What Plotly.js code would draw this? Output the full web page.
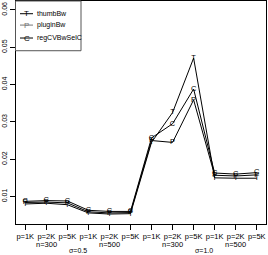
<!DOCTYPE html>
<html>
<head>
<meta charset="utf-8">
<script src="https://cdn.plot.ly/plotly-3.0.1.min.js"></script>
<style>html,body{margin:0;padding:0;background:#fff;}#chart{width:268px;height:255px;}</style>
</head>
<body>
<div id="chart"></div>
<script>
// Data
const xPos = [1, 2, 3, 4, 5, 6, 7, 8, 9, 10, 11, 12];
const tickLabels = ["p=1K", "p=2K", "p=5K", "p=1K", "p=2K", "p=5K", "p=1K", "p=2K", "p=5K", "p=1K", "p=2K", "p=5K"];
const nLabels = ["n=300", "n=500", "n=300", "n=500"];
const nLabelPos = [2, 5, 8, 11];
const sigmaLabels = ["σ=0.5", "σ=1.0"];
const sigmaLabelPos = [3.5, 9.5];
const seriesNames = ["thumbBw", "pluginBw", "regCVBwSelC"];
const seriesLetters = ["T", "P", "C"];
const thumbBw = [0.0080, 0.0082, 0.0078, 0.0056, 0.0053, 0.0054, 0.0245, 0.0325, 0.0471, 0.0150, 0.0149, 0.0149];
const pluginBw = [0.0084, 0.0085, 0.0083, 0.0059, 0.0056, 0.0057, 0.0250, 0.0245, 0.0359, 0.0157, 0.0155, 0.0158];
const regCVBwSelC = [0.0087, 0.0089, 0.0088, 0.0063, 0.0060, 0.0060, 0.0257, 0.0295, 0.0388, 0.0163, 0.0160, 0.0164];
const yTicks = [0.01, 0.02, 0.03, 0.04, 0.05, 0.06];
const yTickText = ["0.01", "0.02", "0.03", "0.04", "0.05", "0.06"];

const FONT = "'Liberation Sans', Arial, Helvetica, sans-serif";
const allSeries = [thumbBw, pluginBw, regCVBwSelC];
const lineColors = ["#000000", "#000000", "#000000"];

const traces = allSeries.map((ys, i) => ({
  type: "scatter",
  mode: "lines+text",
  x: xPos,
  y: ys,
  name: seriesNames[i],
  text: xPos.map(() => seriesLetters[i]),
  textposition: "middle center",
  textfont: {family: FONT, size: 7.5, color: "#000"},
  line: {color: lineColors[i], width: 1},
  showlegend: false,
  cliponaxis: false
}));

const annotations = [];
nLabels.forEach((t, i) => annotations.push({
  text: t, x: nLabelPos[i], xref: "x", y: -0.093, yref: "paper",
  showarrow: false, xanchor: "center", yanchor: "middle",
  font: {family: FONT, size: 7.5, color: "#000"}
}));
sigmaLabels.forEach((t, i) => annotations.push({
  text: t, x: sigmaLabelPos[i], xref: "x", y: -0.119, yref: "paper",
  showarrow: false, xanchor: "center", yanchor: "middle",
  font: {family: FONT, size: 7, color: "#000"}
}));

// manual legend (R style)
const legY = [0.943, 0.892, 0.834];
const legendColors = ["#000", "#777", "#000"];
const shapes = [{
  type: "rect", xref: "paper", yref: "paper",
  x0: -0.002, x1: 0.26, y0: 0.777, y1: 1.0,
  line: {color: "#555", width: 1}, fillcolor: "rgba(255,255,255,1)"
}];
seriesNames.forEach((n, i) => {
  shapes.push({
    type: "line", xref: "paper", yref: "paper",
    x0: 0.016, x1: 0.068, y0: legY[i], y1: legY[i],
    line: {color: legendColors[i], width: 1}
  });
  annotations.push({
    text: seriesLetters[i], x: 0.042, xref: "paper", y: legY[i], yref: "paper",
    showarrow: false, xanchor: "center", yanchor: "middle",
    font: {family: FONT, size: 8, color: legendColors[i]}
  });
  annotations.push({
    text: n, x: 0.076, xref: "paper", y: legY[i], yref: "paper",
    showarrow: false, xanchor: "left", yanchor: "middle",
    font: {family: FONT, size: 7, color: "#000"}
  });
});

const layout = {
  width: 268, height: 255,
  margin: {l: 16, r: 2, t: 1, b: 31, pad: 0},
  paper_bgcolor: "#fff", plot_bgcolor: "#fff",
  font: {family: FONT, size: 7.5, color: "#000"},
  showlegend: false,
  xaxis: {
    range: [0.56, 12.44], tickmode: "array", tickvals: xPos, ticktext: tickLabels,
    showgrid: false, zeroline: false, showline: true, mirror: true,
    linecolor: "#000", linewidth: 1, ticks: "outside", ticklen: 5, tickcolor: "#000",
    tickfont: {family: FONT, size: 7.5, color: "#000"}
  },
  yaxis: {
    range: [0.00263, 0.0624], tickmode: "array", tickvals: yTicks, ticktext: yTickText,
    showgrid: false, zeroline: false, showline: true, mirror: true,
    linecolor: "#000", linewidth: 1, ticks: "outside", ticklen: 5, tickcolor: "#000",
    tickangle: -90, tickfont: {family: FONT, size: 7, color: "#000"}
  },
  shapes: shapes,
  annotations: annotations
};

Plotly.newPlot("chart", traces, layout, {displayModeBar: false, staticPlot: true});
</script>
</body>
</html>
